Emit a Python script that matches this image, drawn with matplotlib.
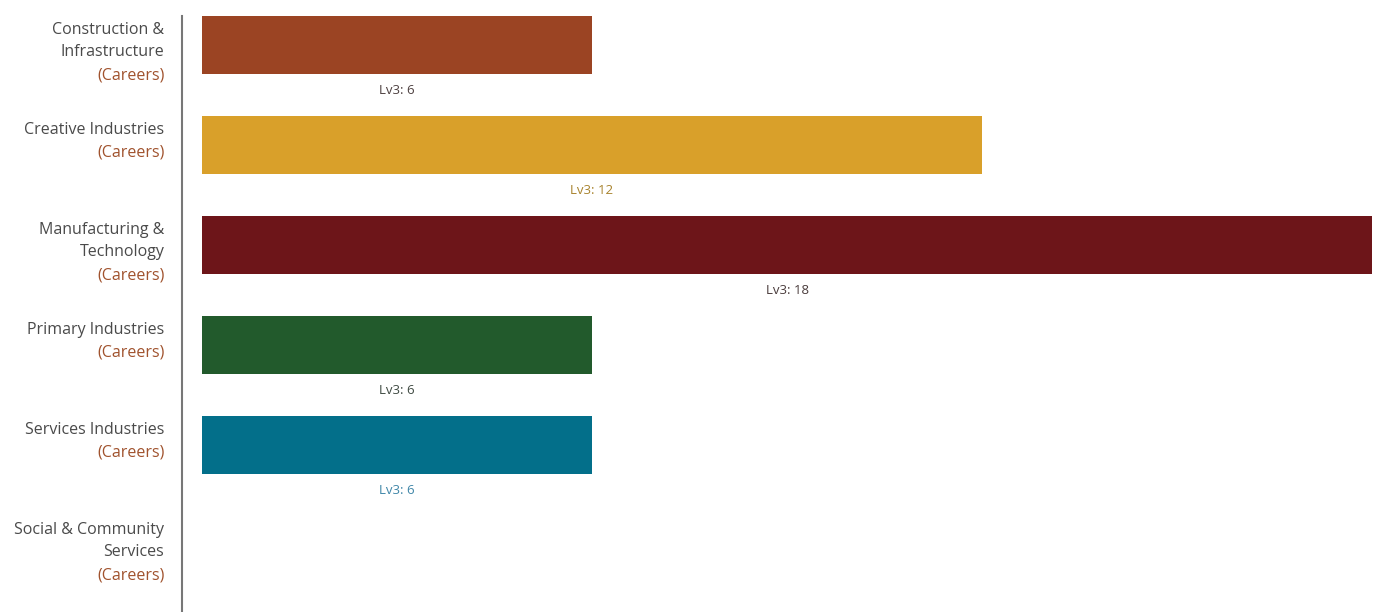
#!/usr/bin/env python3
"""Horizontal bar chart of Lv3 counts per career sector."""

import matplotlib
matplotlib.use("Agg")
import matplotlib.pyplot as plt

# Data
sectors = [
    ["Construction &", "Infrastructure"],
    ["Creative Industries"],
    ["Manufacturing &", "Technology"],
    ["Primary Industries"],
    ["Services Industries"],
    ["Social & Community", "Services"],
]
suffix = "(Careers)"
lv3_values = [6, 12, 18, 6, 6, 0]
bar_colors = ["#9b4423", "#d9a02a", "#6d1519", "#225a2c", "#036f8a", "#888888"]
label_colors = ["#4d4040", "#a8832e", "#4a3c3c", "#3f4a42", "#3f86a8", "#555555"]

plt.rcParams['font.family'] = ['Open Sans', 'DejaVu Sans']

fig = plt.figure(figsize=(13.79, 6.12), dpi=100)
W, H = 1379, 612
# axes spans from the vertical axis line to the right edge
ax = fig.add_axes([182 / W, 0, 1 - 182 / W, (612 - 16) / H])

px_per_unit = 1170 / 18
ax.set_xlim(-20 / px_per_unit, (W - 202) / px_per_unit)
ax.set_ylim(5 + (612 - 545) / 100, -0.29)

bar_h = 0.58
for i, (val, col) in enumerate(zip(lv3_values, bar_colors)):
    if val <= 0:
        continue
    ax.barh(i, val, height=bar_h, color=col, edgecolor='none')
    ax.text(val / 2, i + bar_h / 2 + 0.16, f"Lv3: {val}", ha='center', va='center',
            fontsize=9.5, color=label_colors[i])

# category labels, drawn left of the axis line
line_step = 0.23
for i, lines in enumerate(sectors):
    top = i - bar_h / 2 + 0.135
    for j, line in enumerate(lines + [suffix]):
        ax.text(-0.58, top + j * line_step, line, ha='right', va='center',
                fontsize=11.5, color='#a0522d' if line == suffix else '#4a4a4a',
                clip_on=False)

for side in ['top', 'right', 'bottom']:
    ax.spines[side].set_visible(False)
ax.spines['left'].set_color('#777777')
ax.spines['left'].set_linewidth(1.5)
ax.spines['left'].set_position(('data', -20 / px_per_unit))
ax.set_xticks([])
ax.set_yticks([])
ax.patch.set_alpha(0)

fig.savefig("out.png", dpi=100)
